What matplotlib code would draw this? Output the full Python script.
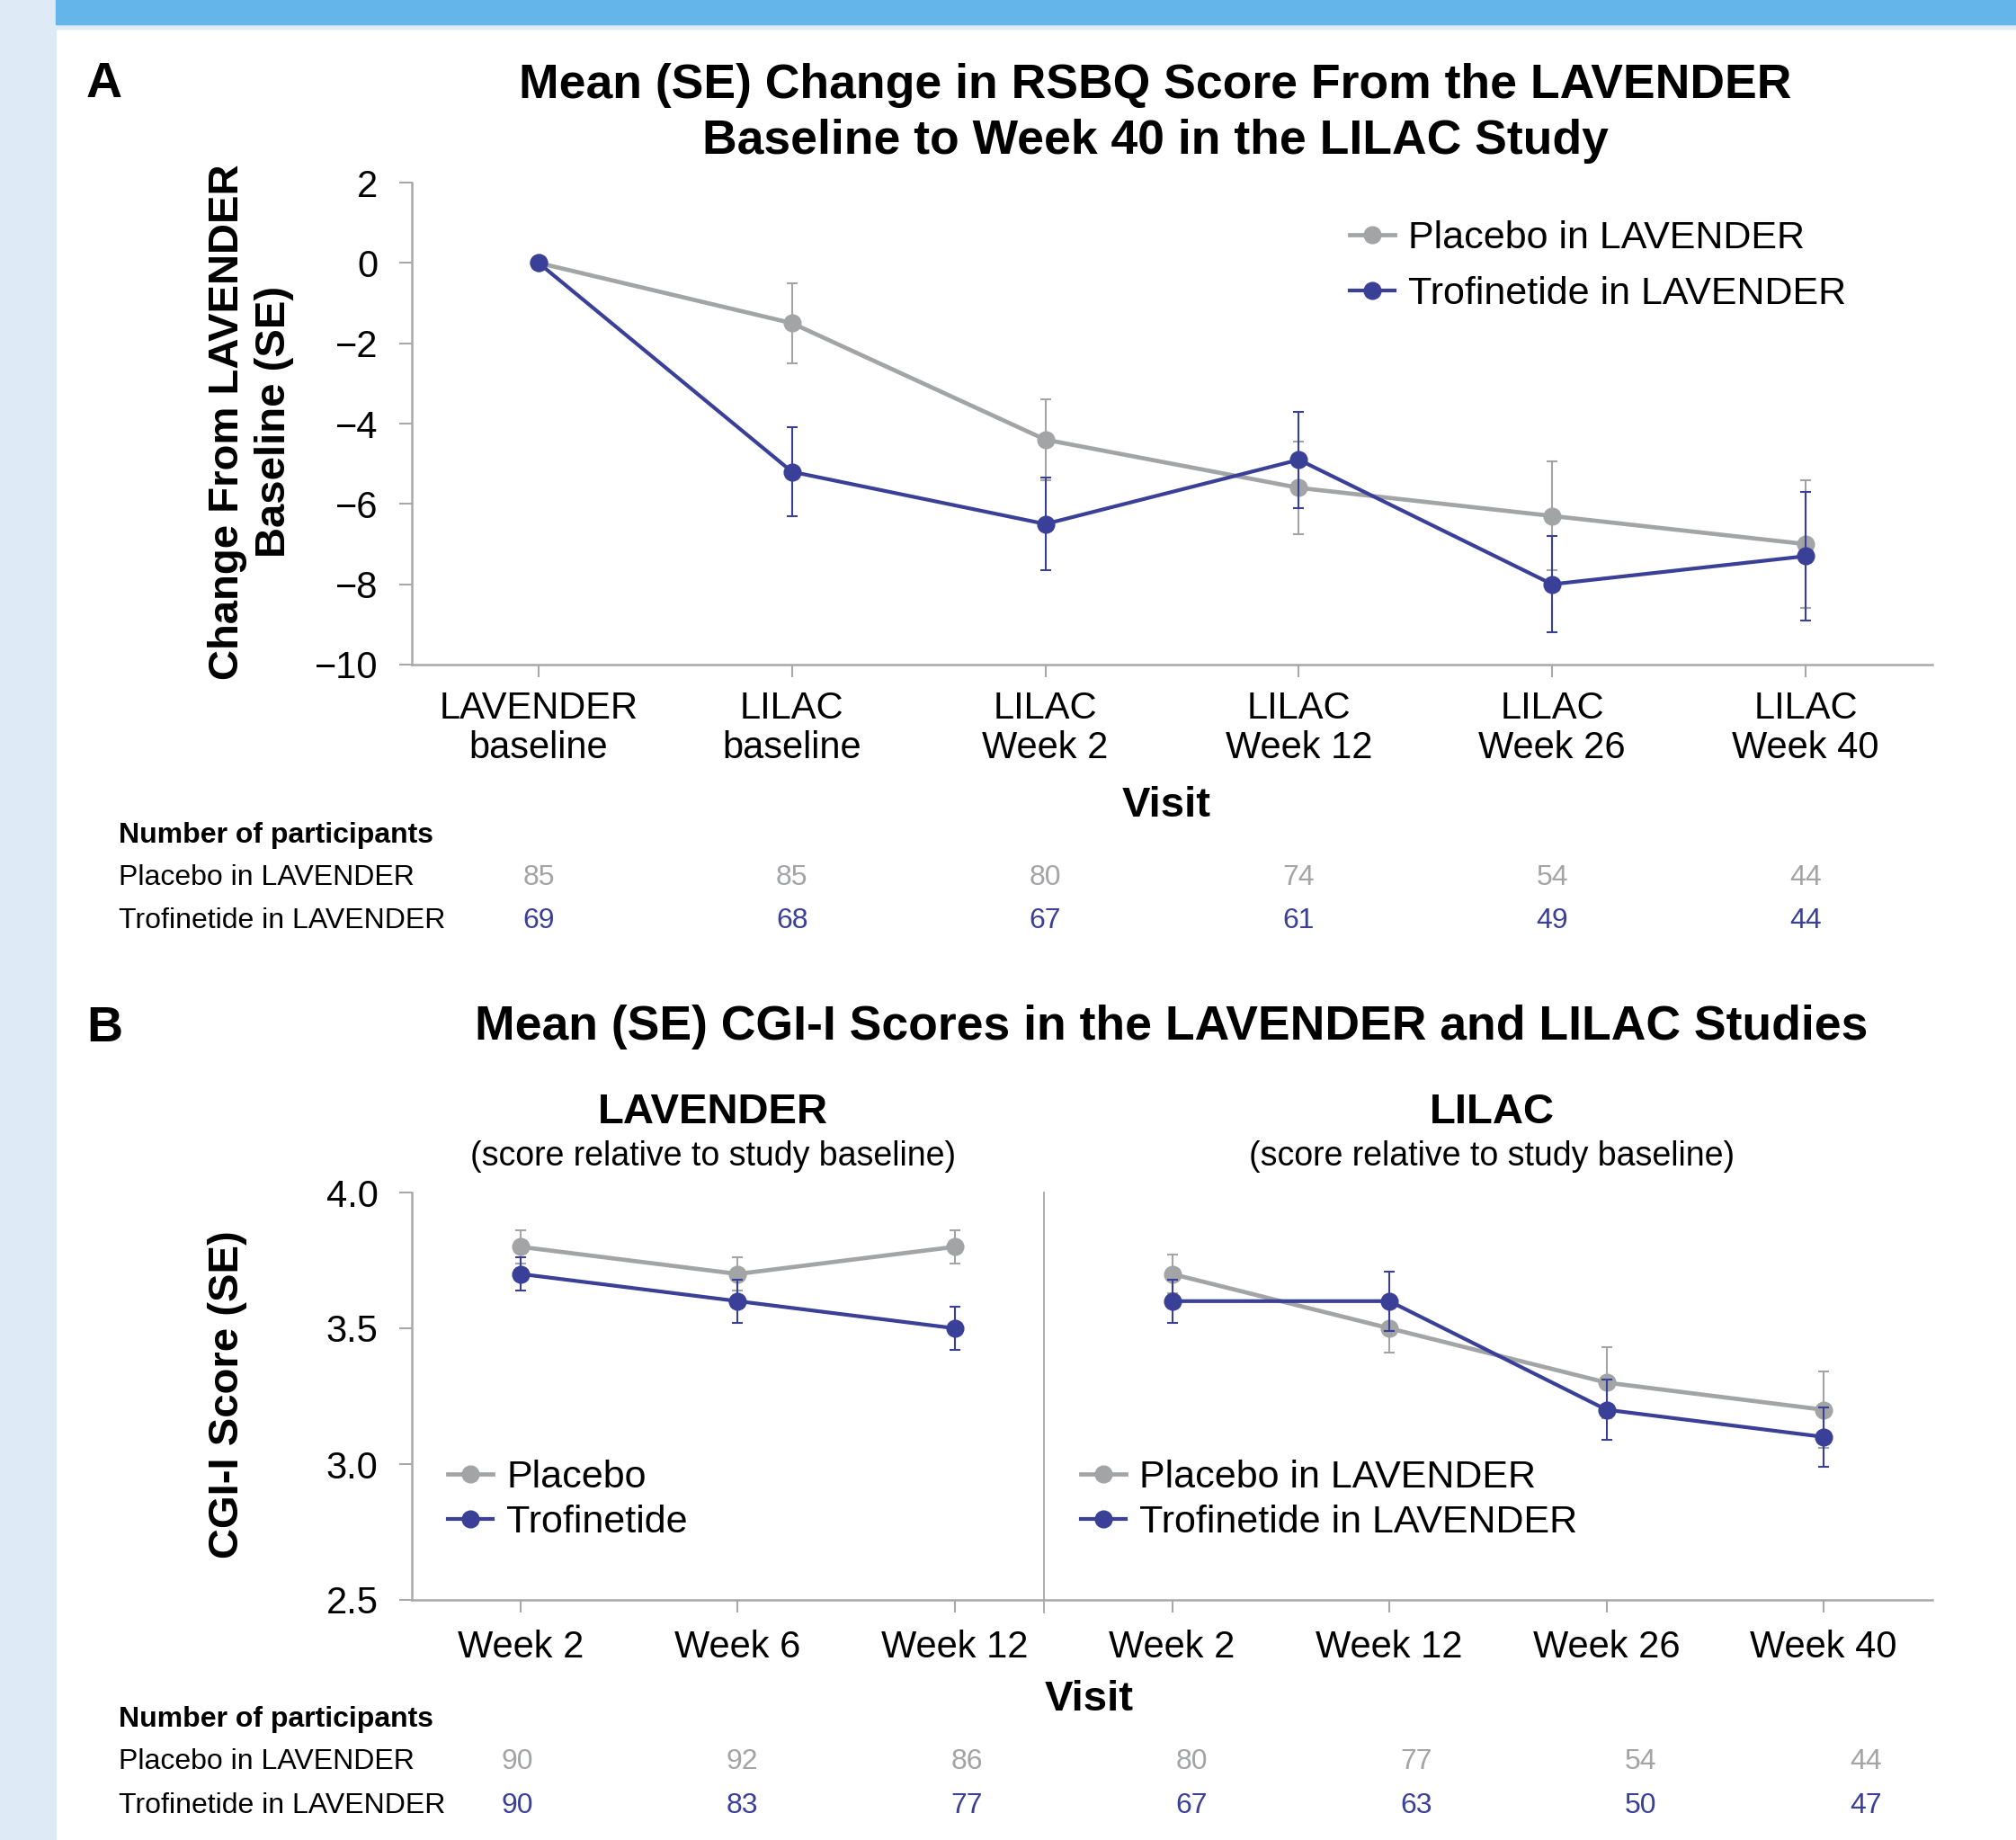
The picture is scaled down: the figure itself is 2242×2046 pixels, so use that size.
import numpy as np
import matplotlib
matplotlib.use('Agg')
import matplotlib.pyplot as plt
import matplotlib.patches as patches
import matplotlib.transforms as mtransforms
from matplotlib.lines import Line2D

plt.rcParams['font.family'] = ['Liberation Sans', 'DejaVu Sans']

# DATA - Panel A: change in RSBQ from LAVENDER baseline
visits_a = ['LAVENDER\nbaseline', 'LILAC\nbaseline', 'LILAC\nWeek 2',
            'LILAC\nWeek 12', 'LILAC\nWeek 26', 'LILAC\nWeek 40']
placebo_a = [0.0, -1.5, -4.4, -5.6, -6.3, -7.0]
placebo_a_se = [0.0, 1.0, 1.0, 1.15, 1.35, 1.6]
trof_a = [0.0, -5.2, -6.5, -4.9, -8.0, -7.3]
trof_a_se = [0.0, 1.1, 1.15, 1.2, 1.2, 1.6]
n_placebo_a = [85, 85, 80, 74, 54, 44]
n_trof_a = [69, 68, 67, 61, 49, 44]

# DATA - Panel B: CGI-I scores
visits_lavender = ['Week 2', 'Week 6', 'Week 12']
visits_lilac = ['Week 2', 'Week 12', 'Week 26', 'Week 40']
placebo_lav = [3.8, 3.7, 3.8]
placebo_lav_se = [0.06, 0.06, 0.06]
trof_lav = [3.7, 3.6, 3.5]
trof_lav_se = [0.06, 0.08, 0.08]
placebo_lil = [3.7, 3.5, 3.3, 3.2]
placebo_lil_se = [0.07, 0.09, 0.13, 0.14]
trof_lil = [3.6, 3.6, 3.2, 3.1]
trof_lil_se = [0.08, 0.11, 0.11, 0.11]
n_placebo_b = [90, 92, 86, 80, 77, 54, 44]
n_trof_b = [90, 83, 77, 67, 63, 50, 47]

# STYLE
grey = '#a3a4a6'
blue = '#3a3f98'
axis_grey = '#a8a8a8'
lw_grey = 3.4
lw_blue = 3.0
ms = 13.5
W, H = 2242, 2046


def fx(px):
    return px / W


def fy(py):
    return 1 - py / H


def style_axes(ax, xpad):
    for side in ['top', 'right']:
        ax.spines[side].set_visible(False)
    for side in ['left', 'bottom']:
        ax.spines[side].set_color(axis_grey)
        ax.spines[side].set_linewidth(1.8)
    ax.tick_params(axis='both', colors=axis_grey, labelcolor='black', labelsize=30,
                   width=1.5, length=10)
    ax.tick_params(axis='y', pad=17)
    ax.tick_params(axis='x', pad=xpad)


def draw_series(ax, x, y, se, color, lw, z):
    ax.plot(x, y, color=color, lw=lw, marker='o', ms=ms, zorder=z)
    x = np.asarray(x)
    y = np.asarray(y)
    se = np.asarray(se)
    keep = se > 0
    ax.errorbar(x[keep], y[keep], yerr=se[keep], fmt='none', ecolor=color,
                elinewidth=1.5, capsize=4.5, capthick=1.5, zorder=z - 0.5)


fig = plt.figure(figsize=(W / 100, H / 100), dpi=100)

# BACKGROUND STRIPS
fig.add_artist(patches.Rectangle((0, 0), fx(62), 1, transform=fig.transFigure,
                                 color='#deebf7', zorder=0))
fig.add_artist(patches.Rectangle((fx(62), fy(32)), 1, 32 / H, transform=fig.transFigure,
                                 color='#deebf7', zorder=0))
fig.add_artist(patches.Rectangle((fx(62), fy(27)), 1, 27 / H, transform=fig.transFigure,
                                 color='#64b6ea', zorder=0))

# PANEL A
ax_a = fig.add_axes([fx(458), fy(739), fx(2149) - fx(458), (739 - 203) / H])
xa = np.arange(len(visits_a))
draw_series(ax_a, xa, placebo_a, placebo_a_se, grey, lw_grey, 3)
draw_series(ax_a, xa, trof_a, trof_a_se, blue, lw_blue, 4)
ax_a.set_xlim(-0.5, 5.5)
ax_a.set_ylim(-10, 2)
ax_a.set_yticks(np.arange(-10, 3, 2))
ax_a.set_xticks(xa)
ax_a.set_xticklabels(visits_a)
style_axes(ax_a, 11)
for lbl in ax_a.get_xticklabels():
    lbl.set_linespacing(1.12)

handles_a = [Line2D([], [], color=grey, lw=lw_grey, marker='o', ms=ms),
             Line2D([], [], color=blue, lw=lw_blue, marker='o', ms=ms)]
fig.legend(handles_a, ['Placebo in LAVENDER', 'Trofinetide in LAVENDER'],
           loc='center left', bbox_to_anchor=(fx(1501), fy(296)), frameon=False,
           fontsize=31, handlelength=1.15, handletextpad=0.36, labelspacing=0.5,
           borderpad=0, borderaxespad=0)

fig.text(fx(116), fy(94), 'A', fontsize=40, fontweight='bold', ha='center', va='center')
fig.text(fx(1285), fy(126), 'Mean (SE) Change in RSBQ Score From the LAVENDER\n'
         'Baseline to Week 40 in the LILAC Study', fontsize=38.5, fontweight='bold',
         ha='center', va='center', linespacing=1.3)
fig.text(fx(279), fy(469), 'Change From LAVENDER\nBaseline (SE)', fontsize=34,
         fontweight='bold', rotation=90, ha='center', va='center', linespacing=1.22)
fig.text(fx(1297), fy(896), 'Visit', fontsize=34, fontweight='bold', ha='center', va='center')

# participants table A
tr_a = mtransforms.blended_transform_factory(ax_a.transData, fig.transFigure)
fig.text(fx(132), fy(929), 'Number of participants', fontsize=23, fontweight='bold', va='center')
fig.text(fx(132), fy(976), 'Placebo in LAVENDER', fontsize=23, va='center')
fig.text(fx(132), fy(1024), 'Trofinetide in LAVENDER', fontsize=23, va='center')
for i in range(len(visits_a)):
    fig.text(xa[i], fy(976), str(n_placebo_a[i]), transform=tr_a, fontsize=23,
             color=grey, ha='center', va='center')
    fig.text(xa[i], fy(1024), str(n_trof_a[i]), transform=tr_a, fontsize=23,
             color=blue, ha='center', va='center')

# PANEL B
ax_b = fig.add_axes([fx(458), fy(1779), fx(2149) - fx(458), (1779 - 1326) / H])
x_lav = np.arange(len(visits_lavender))
x_lil = np.arange(len(visits_lilac)) + len(visits_lavender)
draw_series(ax_b, x_lav, placebo_lav, placebo_lav_se, grey, lw_grey, 3)
draw_series(ax_b, x_lav, trof_lav, trof_lav_se, blue, lw_blue, 4)
draw_series(ax_b, x_lil, placebo_lil, placebo_lil_se, grey, lw_grey, 3)
draw_series(ax_b, x_lil, trof_lil, trof_lil_se, blue, lw_blue, 4)
ax_b.set_xlim(-0.5, 6.5)
ax_b.set_ylim(2.5, 4.0)
ax_b.set_yticks([2.5, 3.0, 3.5, 4.0])
ax_b.set_yticklabels(['2.5', '3.0', '3.5', '4.0'])
ax_b.set_xticks(np.concatenate([x_lav, x_lil]))
ax_b.set_xticklabels(visits_lavender + visits_lilac)
style_axes(ax_b, 14)

# divider between the two studies
div_x = 2.41
tr_div = mtransforms.blended_transform_factory(ax_b.transData, ax_b.transAxes)
ax_b.plot([div_x, div_x], [1.0, -0.03], transform=tr_div, color=axis_grey, lw=1.3,
          clip_on=False, zorder=1)

handles_b = [Line2D([], [], color=grey, lw=lw_grey, marker='o', ms=ms),
             Line2D([], [], color=blue, lw=lw_blue, marker='o', ms=ms)]
fig.legend(handles_b, ['Placebo', 'Trofinetide'], loc='center left',
           bbox_to_anchor=(fx(498), fy(1668)), frameon=False, fontsize=31,
           handlelength=1.15, handletextpad=0.36, labelspacing=0.22,
           borderpad=0, borderaxespad=0)
fig.legend(handles_b, ['Placebo in LAVENDER', 'Trofinetide in LAVENDER'], loc='center left',
           bbox_to_anchor=(fx(1202), fy(1668)), frameon=False, fontsize=31,
           handlelength=1.15, handletextpad=0.36, labelspacing=0.22,
           borderpad=0, borderaxespad=0)

fig.text(fx(116), fy(1144), 'B', fontsize=40, fontweight='bold', ha='center', va='center')
fig.text(fx(1303), fy(1142), 'Mean (SE) CGI-I Scores in the LAVENDER and LILAC Studies',
         fontsize=38.5, fontweight='bold', ha='center', va='center')
fig.text(fx(793), fy(1237), 'LAVENDER', fontsize=34, fontweight='bold', ha='center', va='center')
fig.text(fx(793), fy(1286), '(score relative to study baseline)', fontsize=27,
         ha='center', va='center')
fig.text(fx(1659), fy(1237), 'LILAC', fontsize=34, fontweight='bold', ha='center', va='center')
fig.text(fx(1659), fy(1286), '(score relative to study baseline)', fontsize=27,
         ha='center', va='center')
fig.text(fx(253), fy(1551), 'CGI-I Score (SE)', fontsize=34, fontweight='bold',
         rotation=90, ha='center', va='center')
fig.text(fx(1211), fy(1890), 'Visit', fontsize=34, fontweight='bold', ha='center', va='center')

# participants table B
fig.text(fx(132), fy(1912), 'Number of participants', fontsize=23, fontweight='bold', va='center')
fig.text(fx(132), fy(1959), 'Placebo in LAVENDER', fontsize=23, va='center')
fig.text(fx(132), fy(2008), 'Trofinetide in LAVENDER', fontsize=23, va='center')
col_x = np.linspace(fx(575), fx(2075), len(n_placebo_b))
for i in range(len(n_placebo_b)):
    fig.text(col_x[i], fy(1959), str(n_placebo_b[i]), fontsize=23, color=grey,
             ha='center', va='center')
    fig.text(col_x[i], fy(2008), str(n_trof_b[i]), fontsize=23, color=blue,
             ha='center', va='center')

plt.savefig('out.png', dpi=100)
